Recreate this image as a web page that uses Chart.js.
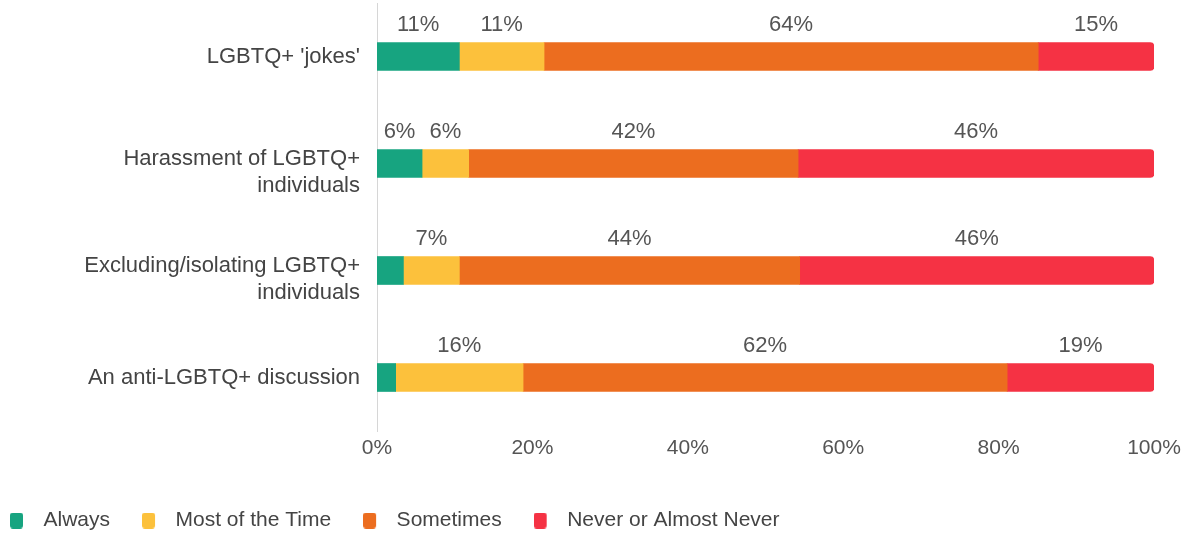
<!DOCTYPE html>
<html>
<head>
<meta charset="utf-8">
<title>LGBTQ+ behaviours witnessed</title>
<script src="https://cdn.jsdelivr.net/npm/chart.js@4.4.1/dist/chart.umd.min.js"></script>
<style>
  html, body { margin: 0; padding: 0; background: #fff; }
  #wrap { width: 1193px; height: 533px; }
</style>
</head>
<body>
<div id="wrap"><canvas id="myChart"></canvas></div>
<script>
// categories and values (percent)
const categories = [
    "LGBTQ+ 'jokes'",
    ['Harassment of LGBTQ+', 'individuals'],
    ['Excluding/isolating LGBTQ+', 'individuals'],
    'An anti-LGBTQ+ discussion'
];
const always     = [10.6, 5.8, 3.4, 2.4];
const mostOfTime = [10.9, 6.0, 7.2, 16.4];
const sometimes  = [63.6, 42.4, 43.8, 62.3];
const never      = [14.9, 45.8, 45.6, 18.9];
const xTicks = [0, 20, 40, 60, 80, 100];

const seriesNames = ['Always', 'Most of the Time', 'Sometimes', 'Never or Almost Never'];
const colors = ['#17a480', '#fcc13c', '#ec6d1f', '#f53244'];

const fontFamily = '"Liberation Sans", Arial, sans-serif';

// legend swatch: small rounded box with some blank room after it
function swatch(color) {
    const c = document.createElement('canvas');
    c.width = 23;
    c.height = 16;
    const g = c.getContext('2d');
    g.fillStyle = color;
    g.beginPath();
    if (g.roundRect) g.roundRect(0, 0, 13, 16, 3); else g.rect(0, 0, 13, 16);
    g.fill();
    return c;
}
const swatches = colors.map(swatch);

// percent labels above each segment (small ones are left out)
const segmentLabels = {
    id: 'segmentLabels',
    afterDatasetsDraw(chart) {
        const ctx = chart.ctx;
        ctx.save();
        ctx.font = '22px ' + fontFamily;
        ctx.fillStyle = '#555';
        ctx.textAlign = 'center';
        ctx.textBaseline = 'alphabetic';
        chart.data.datasets.forEach((ds, i) => {
            chart.getDatasetMeta(i).data.forEach((bar, j) => {
                const v = ds.data[j];
                if (v < 5) return;
                const p = bar.getProps(['x', 'y', 'base', 'height'], true);
                ctx.fillText(Math.round(v) + '%', (p.x + p.base) / 2, p.y - p.height / 2 - 12);
            });
        });
        ctx.restore();
    }
};

// nudge the legend to the left edge and a bit lower,
// and drop the two-line axis labels a little so the first line sits by the bar
const layoutTweaks = {
    id: 'layoutTweaks',
    afterLayout(chart) {
        const lg = chart.legend;
        const pad = lg.options.labels.padding;
        lg.left = 10 - pad;
        lg.top += 8;
        lg.bottom += 8;
    },
    beforeDraw(chart) {
        const items = chart.scales.y.getLabelItems(chart.chartArea);
        items.forEach(it => {
            if (Array.isArray(it.label) && !it._moved) {
                it.options.translation[1] += 9;
                it._moved = true;
            }
        });
    }
};

const data = {
    labels: categories,
    datasets: [always, mostOfTime, sometimes, never].map((vals, i) => ({
        label: seriesNames[i],
        data: vals,
        backgroundColor: colors[i],
        borderWidth: 0,
        borderRadius: i === 3 ? 4 : 0,
        borderSkipped: 'start',
        barThickness: 28
    }))
};

const ctx = document.getElementById('myChart').getContext('2d');
const myChart = new Chart(ctx, {
    type: 'bar',
    data: data,
    plugins: [segmentLabels, layoutTweaks],
    options: {
        indexAxis: 'y',
        responsive: true,
        maintainAspectRatio: false,
        animation: false,
        layout: {
            padding: { top: 3, right: 39, left: 0, bottom: 0 }
        },
        plugins: {
            legend: {
                position: 'bottom',
                align: 'start',
                labels: {
                    usePointStyle: true,
                    pointStyleWidth: 23,
                    boxHeight: 16,
                    padding: 32,
                    color: '#444',
                    font: { size: 21, family: fontFamily },
                    generateLabels(chart) {
                        const items = Chart.defaults.plugins.legend.labels.generateLabels(chart);
                        items.forEach((it, i) => { it.pointStyle = swatches[i]; });
                        return items;
                    }
                }
            },
            tooltip: { enabled: false }
        },
        scales: {
            x: {
                stacked: true,
                min: 0,
                max: 100,
                afterBuildTicks: s => { s.ticks = xTicks.map(v => ({ value: v })); },
                afterFit: s => { s.height = 39; },
                grid: { display: false },
                border: { display: false },
                ticks: {
                    padding: -3,
                    color: '#555',
                    font: { size: 21, family: fontFamily },
                    callback: v => v + '%'
                }
            },
            y: {
                stacked: true,
                afterFit: s => {
                    s.width = 377;
                    s.paddingTop = 0;
                    s.paddingBottom = 0;
                },
                grid: { display: false, drawTicks: false },
                border: { display: true, color: '#d6d6d6', dash: [2, 3] },
                ticks: {
                    padding: 17,
                    color: '#444',
                    font: { size: 22, family: fontFamily }
                }
            }
        }
    }
});
</script>
</body>
</html>
